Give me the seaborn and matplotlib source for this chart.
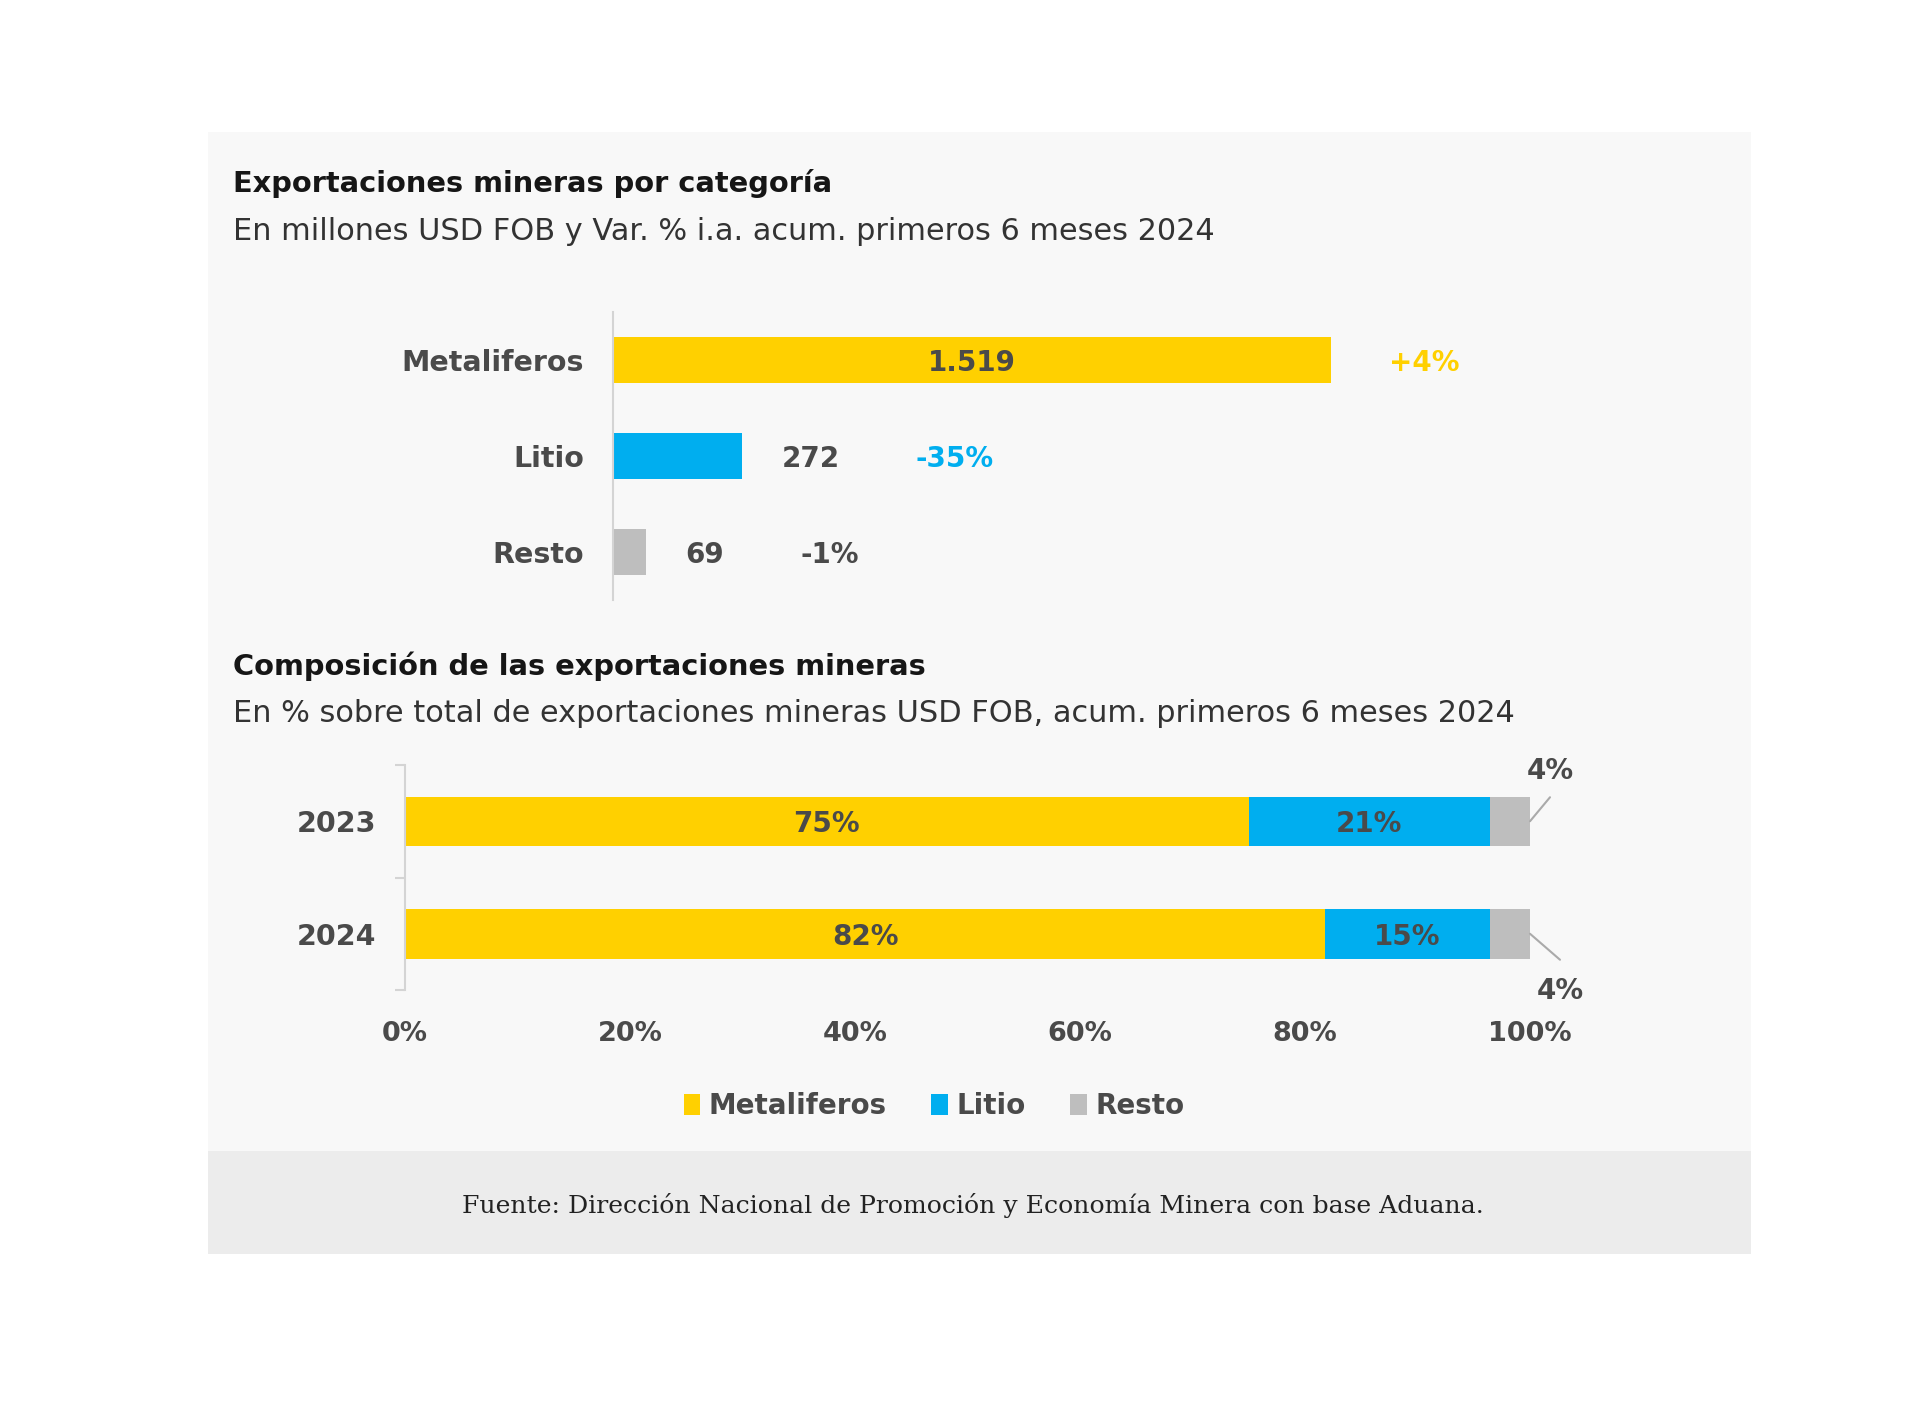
import matplotlib
matplotlib.use("Agg")
import matplotlib.pyplot as plt
from matplotlib.patches import Rectangle, Patch
import seaborn as sns
import pandas as pd
import numpy as np

# ---------------- data ----------------
categories = ["Metaliferos", "Litio", "Resto"]
export_values = [1519, 272, 69]
value_labels = ["1.519", "272", "69"]
var_labels = ["+4%", "-35%", "-1%"]

years = ["2023", "2024"]
share_metaliferos = [75.0, 81.8]
share_litio = [21.4, 14.6]
share_resto = [3.6, 3.6]
x_ticks = [0, 20, 40, 60, 80, 100]

title1 = "Exportaciones mineras por categoría"
subtitle1 = "En millones USD FOB y Var. % i.a. acum. primeros 6 meses 2024"
title2 = "Composición de las exportaciones mineras"
subtitle2 = "En % sobre total de exportaciones mineras USD FOB, acum. primeros 6 meses 2024"
source = "Fuente: Dirección Nacional de Promoción y Economía Minera con base Aduana."

# ---------------- style ----------------
YELLOW = "#FFD000"
BLUE = "#00AEEF"
GRAY = "#BEBEBE"
TXT = "#4a4a4a"
DARK = "#161616"
FONT = ["DejaVu Sans"]
plt.rcParams["font.family"] = FONT

W, H = 1920, 1416
fig = plt.figure(figsize=(W / 100, H / 100), dpi=100)
fig.patch.set_facecolor("white")


def box(l, t, r, b):
    return [l / W, 1 - b / H, (r - l) / W, (b - t) / H]


def fx(x):
    return x / W


def fy(y):
    return 1 - y / H


# panel backgrounds
fig.patches.append(Rectangle((fx(208), fy(1151)), (1751 - 208) / W, (1151 - 132) / H,
                             transform=fig.transFigure, facecolor="#f8f8f8", edgecolor="none", zorder=-5))
fig.patches.append(Rectangle((fx(208), fy(1254)), (1751 - 208) / W, (1254 - 1151) / H,
                             transform=fig.transFigure, facecolor="#ececec", edgecolor="none", zorder=-5))

# titles
fig.text(fx(233), fy(184), title1, fontsize=20.8, fontweight="bold", color=DARK, va="center", ha="left")
fig.text(fx(233), fy(232), subtitle1, fontsize=21.9, color="#333333", va="center", ha="left")
fig.text(fx(233), fy(666), title2, fontsize=20.8, fontweight="bold", color=DARK, va="center", ha="left")
fig.text(fx(233), fy(714), subtitle2, fontsize=21.9, color="#333333", va="center", ha="left")

# ---------------- top chart ----------------
ax1 = fig.add_axes(box(613, 312, 1700, 600))
ax1.set_facecolor("none")
df1 = pd.DataFrame({"cat": categories, "val": export_values})
sns.barplot(data=df1, x="val", y="cat", hue="cat", palette=[YELLOW, BLUE, GRAY],
            width=0.48, saturation=1, linewidth=0, legend=False, ax=ax1)
ax1.set_xlim(0, (1700 - 613) / 0.4727)
ax1.set_ylim(2.5, -0.5)
for s in ["top", "right", "bottom"]:
    ax1.spines[s].set_visible(False)
ax1.spines["left"].set_color("#d4d4d4")
ax1.spines["left"].set_linewidth(1.5)
ax1.set_xticks([])
ax1.tick_params(axis="y", length=0, pad=21, labelsize=20.5, labelcolor=TXT)
for lab in ax1.get_yticklabels():
    lab.set_fontweight("bold")
ax1.set_xlabel("")
ax1.set_ylabel("")

var_colors = [YELLOW, BLUE, TXT]
fig.canvas.draw()
renderer = fig.canvas.get_renderer()
for i, (v, vl, pl) in enumerate(zip(export_values, value_labels, var_labels)):
    if i == 0:
        ax1.text(v / 2, i, vl, ha="center", va="center_baseline", fontsize=20, fontweight="bold", color=TXT)
        ax1.annotate(pl, xy=(v, i), xytext=(58, 0), textcoords="offset pixels",
                     ha="left", va="center_baseline", fontsize=20, fontweight="bold", color=var_colors[i])
    else:
        t = ax1.annotate(vl, xy=(v, i), xytext=(40, 0), textcoords="offset pixels",
                         ha="left", va="center_baseline", fontsize=20, fontweight="bold", color=TXT)
        bb = t.get_window_extent(renderer)
        ax1.annotate(pl, xy=(v, i), xytext=(40 + bb.width + 76, 0), textcoords="offset pixels",
                     ha="left", va="center_baseline", fontsize=20, fontweight="bold", color=var_colors[i])

# ---------------- bottom chart ----------------
ax2 = fig.add_axes(box(405, 765, 1530, 990))
ax2.set_facecolor("none")
met = np.array(share_metaliferos)
lit = np.array(share_litio)
res = np.array(share_resto)
df2 = pd.DataFrame({"year": years, "total": met + lit + res, "ml": met + lit, "m": met})
for col, c in [("total", GRAY), ("ml", BLUE), ("m", YELLOW)]:
    sns.barplot(data=df2, x=col, y="year", color=c, width=0.44, saturation=1,
                linewidth=0, ax=ax2)
ax2.set_xlim(0, 100)
ax2.set_ylim(1.5, -0.5)
ax2.set_xlabel("")
ax2.set_ylabel("")
for s in ["top", "right", "bottom"]:
    ax2.spines[s].set_visible(False)
ax2.spines["left"].set_color("#d4d4d4")
ax2.spines["left"].set_linewidth(1.5)
ax2.set_yticks(range(len(years)))
ax2.set_yticklabels(years)
ax2.set_yticks([-0.5, 0.5, 1.5], minor=True)
ax2.tick_params(axis="y", which="major", length=0, pad=21, labelsize=20.5, labelcolor=TXT)
ax2.tick_params(axis="y", which="minor", length=7, width=1.5, color="#d4d4d4")
for lab in ax2.get_yticklabels():
    lab.set_fontweight("bold")
ax2.set_xticks(x_ticks)
ax2.set_xticklabels([f"{t}%" for t in x_ticks])
ax2.tick_params(axis="x", length=0, pad=22, labelsize=19.5, labelcolor=TXT)
for lab in ax2.get_xticklabels():
    lab.set_fontweight("bold")

for i in range(len(years)):
    ax2.text(met[i] / 2, i, f"{round(met[i])}%", ha="center", va="center_baseline",
             fontsize=20, fontweight="bold", color=TXT)
    ax2.text(met[i] + lit[i] / 2, i, f"{round(lit[i])}%", ha="center", va="center_baseline",
             fontsize=20, fontweight="bold", color=TXT)
    tot = met[i] + lit[i] + res[i]
    if i == 0:
        line_end, text_off = (20, 24), (20, 50)
    else:
        line_end, text_off = (30, -26), (30, -57)
    ax2.annotate("", xy=(tot, i), xytext=line_end, textcoords="offset pixels",
                 arrowprops=dict(arrowstyle="-", color="#aaaaaa", lw=1.5, shrinkA=0, shrinkB=0))
    ax2.annotate(f"{round(res[i])}%", xy=(tot, i), xytext=text_off, textcoords="offset pixels",
                 ha="center", va="center", fontsize=20, fontweight="bold", color=TXT)

# legend
handles = [Patch(facecolor=c, edgecolor="none") for c in [YELLOW, BLUE, GRAY]]
leg = fig.legend(handles, categories, loc="center", bbox_to_anchor=(fx(934), fy(1106)),
                 ncol=3, frameon=False, handlelength=0.6, handleheight=0.8, handletextpad=0.3,
                 columnspacing=1.6, prop={"size": 20, "weight": "bold", "family": FONT})
for t in leg.get_texts():
    t.set_color(TXT)

# source
fig.text(fx(973), fy(1205), source, fontsize=18.1, color="#222222", ha="center", va="center",
         family=["DejaVu Serif"])

fig.savefig("out.png", dpi=100, facecolor="white")
